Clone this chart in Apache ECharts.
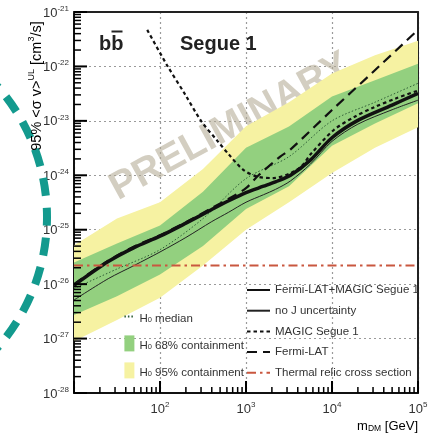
<!DOCTYPE html>
<html>
<head>
<meta charset="utf-8">
<script src="https://cdn.jsdelivr.net/npm/echarts@6/dist/echarts.min.js"></script>
<style>
html,body{margin:0;padding:0;background:#fff}
#chart{width:436px;height:438px}
</style>
</head>
<body>
<div id="chart"></div>
<script>
// Dark matter mass grid (GeV) for the H0 expectation bands
const bandMass = [10, 31.6, 100, 316, 1000, 3160, 10000, 31600, 100000];
const band95Upper = [5.2e-26, 1.6e-25, 3.2e-25, 1.3e-24, 8.0e-24, 2.2e-23, 7.4e-23, 1.6e-22, 2.95e-22];
const band95Lower = [8.9e-28, 2.2e-27, 5.6e-27, 2.2e-26, 1.0e-25, 3.2e-25, 1.1e-24, 3.2e-24, 7.6e-24];
const band68Upper = [2.5e-26, 5.6e-26, 1.2e-25, 5.0e-25, 3.2e-24, 7.9e-24, 2.8e-23, 5.6e-23, 1.12e-22];
const band68Lower = [2.7e-27, 6.0e-27, 1.5e-26, 5.0e-26, 2.4e-25, 6.3e-25, 3.5e-24, 8.9e-24, 2.1e-23];
const medianH0    = [8.3e-27, 1.9e-26, 4.3e-26, 1.6e-25, 8.7e-25, 2.2e-24, 1.0e-23, 2.2e-23, 4.9e-23];

// Combined Fermi-LAT + MAGIC limit and the version without J-factor uncertainty
const limitMass = [10, 25, 50, 100, 200, 400, 630, 1000, 1600, 2200, 3300, 5600, 10000, 20000, 50000, 100000];
const combinedUL = [9.5e-27, 2.6e-26, 4.7e-26, 7.6e-26, 1.32e-25, 2.35e-25, 3.4e-25, 4.8e-25, 6.3e-25, 7.6e-25, 1.0e-24, 1.9e-24, 4.9e-24, 1.02e-23, 1.95e-23, 3.2e-23];
const noJUL      = [5.1e-27, 1.26e-26, 2.2e-26, 3.9e-26, 7.2e-26, 1.41e-25, 2.1e-25, 3.2e-25, 4.4e-25, 5.5e-25, 7.9e-25, 1.6e-24, 4.2e-24, 8.7e-24, 1.6e-23, 2.4e-23];

// MAGIC Segue 1 alone
const magicMass = [71, 120, 200, 300, 470, 620, 930, 1400, 2100, 3200, 4400, 5600, 10500, 18000, 31000, 56000, 100000];
const magicUL   = [4.7e-22, 1.07e-22, 2.9e-23, 1.0e-23, 4.2e-24, 2.5e-24, 1.26e-24, 9.3e-25, 8.9e-25, 1.07e-24, 1.45e-24, 2.4e-24, 6.8e-24, 1.17e-23, 1.78e-23, 2.6e-23, 3.6e-23];

// Fermi-LAT alone
const fermiMass = [10, 25, 50, 100, 200, 400, 630, 1000, 1400, 2500, 3300, 10000, 30000, 100000];
const fermiUL   = [1.0e-26, 2.7e-26, 4.9e-26, 7.9e-26, 1.38e-25, 2.5e-25, 3.7e-25, 5.8e-25, 1.0e-24, 2.2e-24, 3.0e-24, 1.58e-23, 7.9e-23, 4.7e-22];

// Thermal relic cross section (cm^3/s)
const thermalRelic = 2.2e-26;
const massRange = [10, 100000];

// Axis ranges as powers of ten
const xExpRange = [1, 5];
const yExpRange = [-28, -21];

// Both axes are drawn in log10 space
const lg = v => Math.log10(v);
const toXY = (xs, ys) => xs.map((x, i) => [lg(x), lg(ys[i])]);

// Log-style tick marks as [x, y, axis (0 = x, 1 = y), major?] in log10 units
const tickMarks = [];
for (let d = xExpRange[0]; d <= xExpRange[1]; d++) {
  tickMarks.push([d, yExpRange[0], 0, 1]);
  if (d < xExpRange[1]) for (let k = 2; k <= 9; k++) tickMarks.push([d + Math.log10(k), yExpRange[0], 0, 0]);
}
for (let d = yExpRange[0]; d <= yExpRange[1]; d++) {
  tickMarks.push([xExpRange[0], d, 1, 1]);
  if (d < yExpRange[1]) for (let k = 2; k <= 9; k++) tickMarks.push([xExpRange[0], d + Math.log10(k), 1, 0]);
}

const FONT = 'Liberation Sans, Arial, sans-serif';
const TXT = '#333';
const powRich = {
  b: {fontSize: 13, lineHeight: 15, color: TXT, fontFamily: FONT, verticalAlign: 'bottom'},
  s: {fontSize: 8, lineHeight: 15, color: TXT, fontFamily: FONT, verticalAlign: 'top'}
};
const powLabel = v => '{b|10}{s|' + Math.round(v) + '}';

function bandSeries(name, upper, lower, color) {
  return {
    name: name,
    type: 'custom',
    coordinateSystem: 'cartesian2d',
    z: 1,
    itemStyle: {color: color},
    encode: {x: 0, y: [1, 2]},
    data: bandMass.map((m, i) => [lg(m), lg(lower[i]), lg(upper[i])]),
    renderItem: function (params, api) {
      if (params.dataIndex !== 0) return null;
      const pts = [];
      for (let i = 0; i < bandMass.length; i++) pts.push(api.coord([lg(bandMass[i]), lg(upper[i])]));
      for (let i = bandMass.length - 1; i >= 0; i--) pts.push(api.coord([lg(bandMass[i]), lg(lower[i])]));
      return {type: 'polygon', shape: {points: pts}, style: {fill: color}};
    }
  };
}

// Inward tick marks on the bottom and left frame edges
const tickSeries = {
  type: 'custom',
  coordinateSystem: 'cartesian2d',
  z: 8,
  encode: {x: 0, y: 1},
  data: tickMarks,
  renderItem: function (params, api) {
    const p = api.coord([api.value(0), api.value(1)]);
    const isY = api.value(2) === 1;
    const major = api.value(3) === 1;
    const style = {stroke: '#000', lineWidth: major ? 2 : 1.5};
    if (isY) {
      const len = major ? 13 : 7;
      return {type: 'line', shape: {x1: p[0], y1: p[1], x2: p[0] + len, y2: p[1]}, style: style};
    }
    const len = major ? 12 : 6;
    return {type: 'line', shape: {x1: p[0], y1: p[1], x2: p[0], y2: p[1] - len}, style: style};
  }
};

const chart = echarts.init(document.getElementById('chart'), null, {renderer: 'canvas'});

const lineBase = {type: 'line', symbol: 'none', smooth: 0.3};
const gridLine = {show: true, lineStyle: {color: '#9a9a9a', width: 1.2, type: [2, 3]}};
const frameAxis = {
  axisLine: {show: true, onZero: false, lineStyle: {color: '#222', width: 2}},
  axisTick: {show: false}, axisLabel: {show: false}, splitLine: {show: false}
};

chart.setOption({
  animation: false,
  grid: {left: 74, top: 12, right: 18, bottom: 45},
  xAxis: [
    {
      type: 'value', min: xExpRange[0], max: xExpRange[1], interval: 1, position: 'bottom',
      axisLine: {show: true, onZero: false, lineStyle: {color: '#111', width: 2}},
      axisTick: {show: false},
      axisLabel: {show: true, showMinLabel: false, formatter: powLabel, rich: powRich, margin: 8},
      splitLine: gridLine
    },
    Object.assign({type: 'value', min: xExpRange[0], max: xExpRange[1], position: 'top'}, frameAxis)
  ],
  yAxis: [
    {
      type: 'value', min: yExpRange[0], max: yExpRange[1], interval: 1, position: 'left',
      axisLine: {show: true, onZero: false, lineStyle: {color: '#111', width: 2}},
      axisTick: {show: false},
      axisLabel: {show: true, formatter: powLabel, rich: powRich, margin: 5},
      splitLine: gridLine
    },
    Object.assign({type: 'value', min: yExpRange[0], max: yExpRange[1], position: 'right'}, frameAxis)
  ],
  legend: [
    {
      orient: 'vertical', left: 241, top: 279, itemWidth: 23, itemHeight: 12, itemGap: 8.7,
      itemStyle: {opacity: 0},
      textStyle: {fontFamily: FONT, fontSize: 11.5, color: TXT},
      data: ['Fermi-LAT+MAGIC Segue 1', 'no J uncertainty', 'MAGIC Segue 1', 'Fermi-LAT', 'Thermal relic cross section'],
      selectedMode: false
    },
    {
      orient: 'vertical', left: 118, top: 305, itemWidth: 10, itemHeight: 16, itemGap: 11,
      textStyle: {fontFamily: FONT, fontSize: 11.5, color: TXT, rich: {
        n: {fontFamily: FONT, fontSize: 11.5, color: TXT, lineHeight: 16, verticalAlign: 'bottom'},
        sub: {fontFamily: FONT, fontSize: 7.5, color: TXT, lineHeight: 16, verticalAlign: 'bottom'}
      }},
      formatter: n => '{n|H}{sub|0}{n|' + n.slice(2) + '}',
      data: [
        {name: 'H0 median', itemStyle: {opacity: 0}},
        {name: 'H0 68% containment', icon: 'rect'},
        {name: 'H0 95% containment', icon: 'rect'}
      ],
      selectedMode: false
    }
  ],
  series: [
    bandSeries('H0 95% containment', band95Upper, band95Lower, '#f6f2a2'),
    bandSeries('H0 68% containment', band68Upper, band68Lower, '#93d07f'),
    Object.assign({}, lineBase, {
      name: 'H0 median', z: 3,
      data: toXY(bandMass, medianH0),
      itemStyle: {color: '#2f5e36'},
      lineStyle: {color: '#2f5e36', width: 1, type: [1.5, 2]}
    }),
    Object.assign({}, lineBase, {
      name: 'no J uncertainty', z: 4,
      data: toXY(limitMass, noJUL),
      itemStyle: {color: '#222'},
      lineStyle: {color: '#222', width: 1}
    }),
    Object.assign({}, lineBase, {
      name: 'MAGIC Segue 1', z: 5,
      data: toXY(magicMass, magicUL),
      itemStyle: {color: '#111'},
      lineStyle: {color: '#111', width: 2.2, type: [3.5, 3]}
    }),
    Object.assign({}, lineBase, {
      name: 'Fermi-LAT', z: 5,
      data: toXY(fermiMass, fermiUL),
      itemStyle: {color: '#111'},
      lineStyle: {color: '#111', width: 2.2, type: [10, 6]}
    }),
    Object.assign({}, lineBase, {
      name: 'Fermi-LAT+MAGIC Segue 1', z: 6,
      data: toXY(limitMass, combinedUL),
      itemStyle: {color: '#111'},
      lineStyle: {color: '#111', width: 3.5}
    }),
    {
      type: 'line', symbol: 'none', name: 'Thermal relic cross section', z: 7,
      data: massRange.map(m => [lg(m), lg(thermalRelic)]),
      itemStyle: {color: '#c9573f'},
      lineStyle: {color: '#c9573f', width: 2.2, type: [9, 4, 2.5, 4]}
    },
    tickSeries
  ],
  graphic: [
    {
      type: 'arc', z: 10,
      shape: {cx: -150, cy: 217, r: 197, startAngle: -Math.PI / 2, endAngle: Math.PI / 2},
      style: {stroke: '#139a8e', lineWidth: 8, lineDash: [18, 12], fill: 'none'}
    },
    {
      type: 'text', x: 230, y: 127, rotation: 0.5, z: 1,
      style: {text: 'PRELIMINARY', font: 'bold 39px ' + FONT, fill: 'rgba(180,170,148,0.58)', align: 'center', verticalAlign: 'middle'}
    },
    {
      type: 'text', x: 99, y: 44, z: 10,
      style: {text: 'bb', font: 'bold 20px ' + FONT, fill: '#222', align: 'left', verticalAlign: 'middle'}
    },
    {
      type: 'line', z: 10,
      shape: {x1: 111.5, y1: 31.5, x2: 122.5, y2: 31.5},
      style: {stroke: '#222', lineWidth: 2}
    },
    {
      type: 'text', x: 180, y: 44, z: 10,
      style: {text: 'Segue 1', font: 'bold 20px ' + FONT, fill: '#222', align: 'left', verticalAlign: 'middle'}
    },
    {
      type: 'text', x: 36, y: 86, rotation: Math.PI / 2, z: 10,
      style: {
        text: '{a|95% <σ v>}{s|UL}{a| [cm}{s|3}{a|/s]}',
        align: 'center', verticalAlign: 'middle',
        rich: {
          a: {fontFamily: FONT, fontSize: 14.5, color: '#444', lineHeight: 17, verticalAlign: 'bottom'},
          s: {fontFamily: FONT, fontSize: 9, color: '#444', lineHeight: 17, verticalAlign: 'top'}
        }
      }
    },
    {
      type: 'text', x: 418, y: 425, z: 10,
      style: {
        text: '{a|m}{d|DM}{a| [GeV]}',
        align: 'right', verticalAlign: 'middle',
        rich: {
          a: {fontFamily: FONT, fontSize: 13, color: '#444', lineHeight: 16, verticalAlign: 'bottom'},
          d: {fontFamily: FONT, fontSize: 8.5, color: '#444', lineHeight: 16, verticalAlign: 'bottom'}
        }
      }
    }
  ]
});
</script>
</body>
</html>
